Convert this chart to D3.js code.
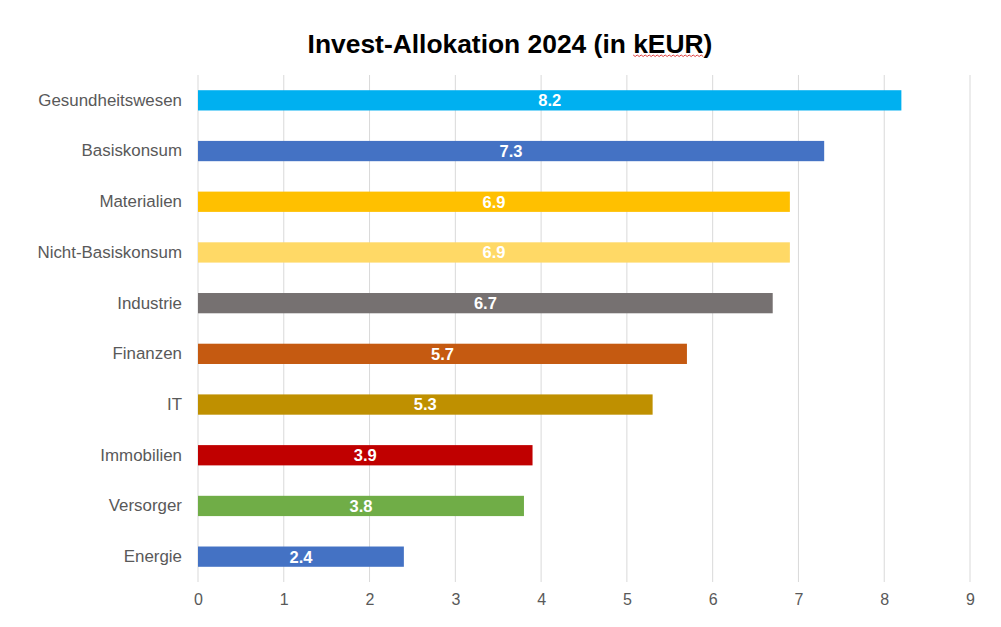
<!DOCTYPE html>
<html>
<head>
<meta charset="utf-8">
<script src="https://d3js.org/d3.v7.min.js"></script>
<style>
  body { margin: 0; background: #fff; }
  text { font-family: "Liberation Sans", Arial, sans-serif; }
</style>
</head>
<body>
<script>
// data, top to bottom
var categories = ["Gesundheitswesen", "Basiskonsum", "Materialien", "Nicht-Basiskonsum", "Industrie",
                  "Finanzen", "IT", "Immobilien", "Versorger", "Energie"];
var values = [8.2, 7.3, 6.9, 6.9, 6.7, 5.7, 5.3, 3.9, 3.8, 2.4];
var colors = ["#00B0F0", "#4472C4", "#FFC000", "#FFD966", "#767171",
              "#C55A11", "#BF9000", "#C00000", "#70AD47", "#4472C4"];
var xTicks = [0, 1, 2, 3, 4, 5, 6, 7, 8, 9];

var width = 1001, height = 627;
var margin = {top: 75, right: 31, bottom: 45, left: 198};

var svg = d3.select("body").append("svg").attr("width", width).attr("height", height);

var x = d3.scaleLinear().domain([0, 9]).range([margin.left, width - margin.right]);
var y = d3.scaleBand().domain(categories).range([margin.top, height - margin.bottom]).paddingInner(0.6).paddingOuter(0.3);

// gridlines
svg.append("g").selectAll("line").data(xTicks).enter().append("line")
  .attr("x1", function(d){ return x(d); }).attr("x2", function(d){ return x(d); })
  .attr("y1", margin.top).attr("y2", height - margin.bottom)
  .attr("stroke", "#d9d9d9").attr("stroke-width", 1);

// x axis labels
var xAxis = svg.append("g").attr("transform", "translate(0," + (height - margin.bottom) + ")")
  .call(d3.axisBottom(x).tickValues(xTicks).tickSize(0).tickPadding(12).tickFormat(d3.format("d")));
xAxis.select(".domain").remove();
xAxis.selectAll("text").attr("font-size", "16px").attr("fill", "#595959").style("font-family", "Liberation Sans, Arial, sans-serif");

// y axis labels
var yAxis = svg.append("g").attr("transform", "translate(" + margin.left + ",0)")
  .call(d3.axisLeft(y).tickSize(0).tickPadding(16));
yAxis.select(".domain").remove();
yAxis.selectAll("text").attr("font-size", "16.9px").attr("fill", "#595959").style("font-family", "Liberation Sans, Arial, sans-serif");

// bars
var rows = categories.map(function(c, i){ return {cat: c, val: values[i], col: colors[i]}; });
svg.append("g").selectAll("rect").data(rows).enter().append("rect")
  .attr("x", x(0))
  .attr("y", function(d){ return y(d.cat); })
  .attr("width", function(d){ return x(d.val) - x(0); })
  .attr("height", y.bandwidth())
  .attr("fill", function(d){ return d.col; });

// value labels
svg.append("g").selectAll("text").data(rows).enter().append("text")
  .attr("x", function(d){ return (x(0) + x(d.val)) / 2; })
  .attr("y", function(d){ return y(d.cat) + y.bandwidth() / 2; })
  .attr("dy", "0.36em")
  .attr("text-anchor", "middle")
  .attr("font-size", "16.5px").attr("font-weight", "bold").attr("fill", "#fff")
  .text(function(d){ return d3.format(".1f")(d.val); });

// title
var titleText = "Invest-Allokation 2024 (in kEUR)";
var title = svg.append("text").attr("x", 510).attr("y", 52.5).attr("text-anchor", "middle")
  .attr("font-size", "26.4px").attr("font-weight", "bold").attr("fill", "#000")
  .text(titleText);

// spell-check squiggle under kEUR
var tn = title.node();
var k0 = titleText.indexOf("kEUR");
var start = tn.getStartPositionOfChar(k0), end = tn.getEndPositionOfChar(k0 + 3);
var pts = [], yy = 55;
for (var px = start.x, j = 0; px <= end.x; px += 2, j++) pts.push([px, yy + (j % 2 ? 1.5 : 0)]);
svg.append("path").attr("d", d3.line()(pts)).attr("fill", "none").attr("stroke", "#e04040").attr("stroke-width", 1);
</script>
</body>
</html>
